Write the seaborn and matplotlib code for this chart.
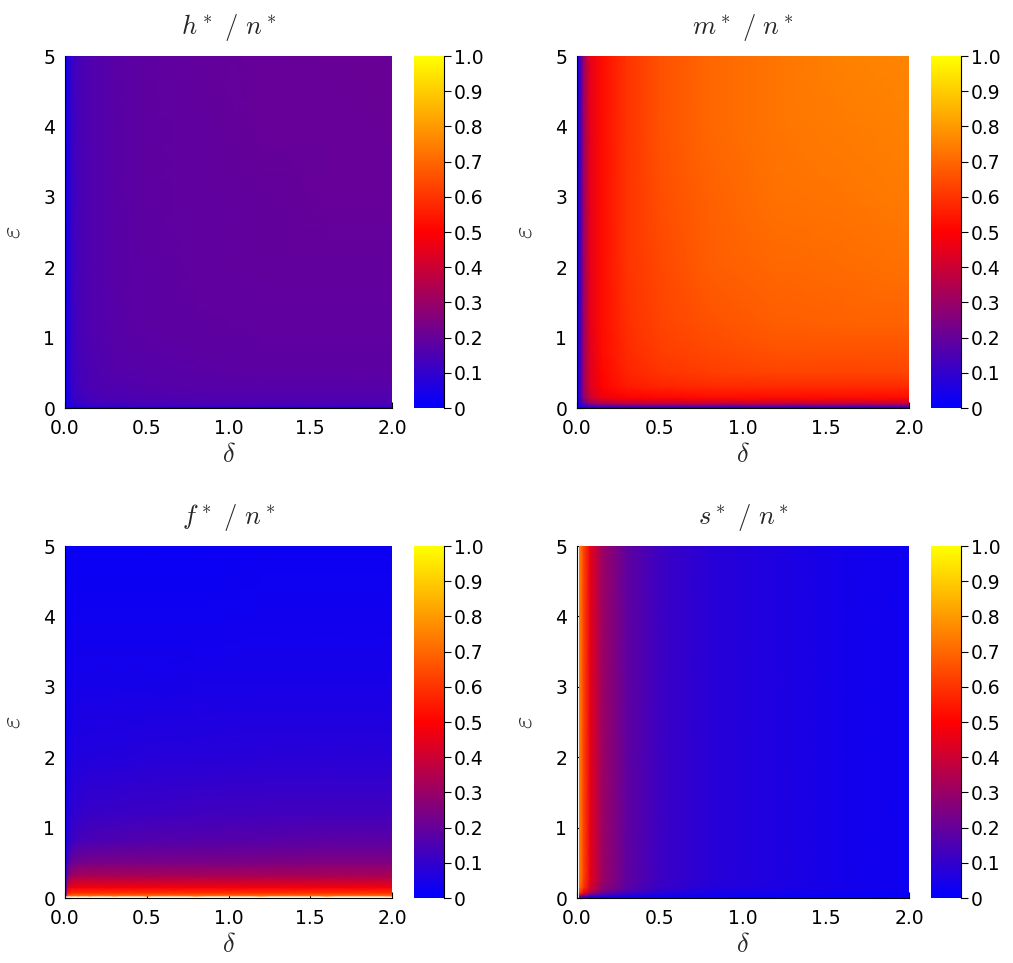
import numpy as np
import matplotlib
matplotlib.use("Agg")
import matplotlib.pyplot as plt
import seaborn as sns

sns.set_style("white")
plt.rcParams["font.family"] = ["DejaVu Sans"]
plt.rcParams["mathtext.fontset"] = "cm"

# grid of delta (columns) and epsilon (rows) where values were read
delta = [0, 0.015, 0.04, 0.08, 0.15, 0.3, 0.5, 0.8, 1.2, 1.6, 2.0]
eps = [0, 0.03, 0.07, 0.15, 0.3, 0.5, 0.8, 1.2, 2, 3, 4, 5]

nan = np.nan

# h*/n*
h_ratio = [
    [0, 0, 0, 0, 0, 0, 0, 0, 0, 0, 0],
    [0, 0.04, 0.07, 0.09, 0.11, 0.12, 0.13, 0.13, 0.13, 0.13, 0.13],
    [0, 0.05, 0.09, 0.11, 0.13, 0.14, 0.145, 0.15, 0.15, 0.15, 0.15],
    [0, 0.05, 0.10, 0.12, 0.14, 0.15, 0.155, 0.16, 0.16, 0.16, 0.16],
    [0, 0.06, 0.10, 0.13, 0.15, 0.16, 0.165, 0.17, 0.17, 0.17, 0.17],
    [0, 0.06, 0.11, 0.13, 0.15, 0.165, 0.17, 0.175, 0.18, 0.18, 0.18],
    [0, 0.06, 0.11, 0.14, 0.155, 0.17, 0.175, 0.18, 0.185, 0.185, 0.185],
    [0, 0.06, 0.11, 0.14, 0.16, 0.17, 0.18, 0.185, 0.19, 0.19, 0.19],
    [0, 0.06, 0.11, 0.14, 0.16, 0.175, 0.18, 0.19, 0.195, 0.195, 0.195],
    [0, 0.06, 0.11, 0.14, 0.16, 0.175, 0.185, 0.19, 0.195, 0.2, 0.2],
    [0, 0.06, 0.11, 0.14, 0.16, 0.175, 0.185, 0.19, 0.2, 0.2, 0.205],
    [0, 0.06, 0.11, 0.14, 0.16, 0.175, 0.185, 0.195, 0.2, 0.205, 0.21],
]

# m*/n*
m_ratio = [
    [0, 0, 0, 0, 0, 0, 0, 0, 0, 0, 0],
    [0, 0.05, 0.1, 0.15, 0.18, 0.2, 0.2, 0.2, 0.2, 0.2, 0.2],
    [0, 0.08, 0.2, 0.3, 0.35, 0.38, 0.4, 0.4, 0.4, 0.4, 0.4],
    [0, 0.1, 0.28, 0.4, 0.47, 0.5, 0.51, 0.52, 0.52, 0.52, 0.52],
    [0, 0.1, 0.3, 0.43, 0.5, 0.55, 0.57, 0.58, 0.58, 0.58, 0.58],
    [0, 0.1, 0.3, 0.44, 0.51, 0.57, 0.6, 0.62, 0.63, 0.63, 0.63],
    [0, 0.1, 0.3, 0.44, 0.52, 0.58, 0.62, 0.64, 0.66, 0.66, 0.66],
    [0, 0.1, 0.3, 0.45, 0.52, 0.59, 0.63, 0.66, 0.68, 0.69, 0.69],
    [0, 0.1, 0.3, 0.45, 0.52, 0.6, 0.64, 0.68, 0.7, 0.71, 0.72],
    [0, 0.1, 0.3, 0.45, 0.52, 0.6, 0.65, 0.69, 0.72, 0.73, 0.74],
    [0, 0.1, 0.3, 0.45, 0.52, 0.6, 0.66, 0.7, 0.73, 0.74, 0.75],
    [0, 0.1, 0.3, 0.45, 0.52, 0.6, 0.66, 0.7, 0.73, 0.75, 0.76],
]

# f*/n*
f_ratio = [
    [nan, nan, nan, nan, nan, nan, nan, nan, nan, nan, nan],
    [0, 0.7, 0.72, 0.72, 0.72, 0.72, 0.72, 0.72, 0.72, 0.72, 0.72],
    [0, 0.55, 0.6, 0.6, 0.6, 0.6, 0.6, 0.6, 0.6, 0.6, 0.6],
    [0, 0.4, 0.47, 0.48, 0.48, 0.48, 0.48, 0.48, 0.48, 0.48, 0.48],
    [0, 0.25, 0.32, 0.34, 0.34, 0.34, 0.34, 0.34, 0.34, 0.34, 0.34],
    [0, 0.15, 0.21, 0.23, 0.235, 0.24, 0.24, 0.24, 0.245, 0.25, 0.25],
    [0, 0.08, 0.12, 0.14, 0.15, 0.16, 0.165, 0.17, 0.175, 0.18, 0.18],
    [0, 0.06, 0.09, 0.1, 0.11, 0.115, 0.12, 0.125, 0.13, 0.13, 0.13],
    [0, 0.04, 0.06, 0.065, 0.07, 0.07, 0.075, 0.075, 0.08, 0.08, 0.08],
    [0, 0.03, 0.04, 0.045, 0.045, 0.045, 0.045, 0.05, 0.05, 0.05, 0.05],
    [0, 0.02, 0.03, 0.03, 0.03, 0.03, 0.03, 0.03, 0.035, 0.035, 0.035],
    [0, 0.015, 0.02, 0.02, 0.02, 0.02, 0.02, 0.02, 0.025, 0.025, 0.025],
]

# s*/n*
s_ratio = [
    [nan, 0, 0, 0, 0, 0, 0, 0, 0, 0, 0],
    [nan, 0.3, 0.2, 0.12, 0.08, 0.05, 0.03, 0.02, 0.015, 0.01, 0.01],
    [nan, 0.6, 0.48, 0.33, 0.21, 0.13, 0.08, 0.05, 0.04, 0.03, 0.02],
    [nan, 0.72, 0.6, 0.43, 0.29, 0.18, 0.11, 0.07, 0.055, 0.04, 0.03],
    [nan, 0.76, 0.63, 0.46, 0.31, 0.19, 0.12, 0.08, 0.06, 0.04, 0.03],
    [nan, 0.76, 0.63, 0.46, 0.31, 0.19, 0.12, 0.08, 0.06, 0.04, 0.03],
    [nan, 0.76, 0.63, 0.46, 0.31, 0.19, 0.12, 0.08, 0.06, 0.04, 0.03],
    [nan, 0.76, 0.63, 0.46, 0.31, 0.19, 0.12, 0.08, 0.06, 0.04, 0.03],
    [nan, 0.76, 0.63, 0.46, 0.31, 0.19, 0.12, 0.08, 0.06, 0.04, 0.03],
    [nan, 0.76, 0.63, 0.46, 0.31, 0.19, 0.12, 0.08, 0.06, 0.04, 0.03],
    [nan, 0.76, 0.63, 0.46, 0.31, 0.19, 0.12, 0.08, 0.06, 0.04, 0.03],
    [nan, 0.76, 0.63, 0.46, 0.31, 0.19, 0.12, 0.08, 0.06, 0.04, 0.03],
]

titles = [r"$h^*\ /\ n^*$", r"$m^*\ /\ n^*$", r"$f^*\ /\ n^*$", r"$s^*\ /\ n^*$"]
panels = [h_ratio, m_ratio, f_ratio, s_ratio]
cbar_ticks = [0, 0.1, 0.2, 0.3, 0.4, 0.5, 0.6, 0.7, 0.8, 0.9, 1.0]
cbar_labels = ["0", "0.1", "0.2", "0.3", "0.4", "0.5", "0.6", "0.7", "0.8", "0.9", "1.0"]

cmap = sns.blend_palette(["blue", "red", "yellow"], as_cmap=True)

W, H = 1013, 963
fig = plt.figure(figsize=(W / 100, H / 100), dpi=100)

def box(x0, y0, w, h):
    return [x0 / W, (H - y0 - h) / H, w / W, h / H]

# pixel boxes: (axes, colorbar)
layout = [
    ((65, 56, 327, 352), (414, 56, 30, 352)),
    ((577, 56, 332, 352), (931, 56, 30, 352)),
    ((65, 546, 327, 352), (414, 546, 30, 352)),
    ((577, 546, 332, 352), (931, 546, 30, 352)),
]

for i, (Z, title) in enumerate(zip(panels, titles)):
    axb, cbb = layout[i]
    ax = fig.add_axes(box(*axb))
    cax = fig.add_axes(box(*cbb))

    Z = np.array(Z, dtype=float)
    x = np.array(delta)
    y = np.array(eps)
    # drop rows / columns that hold no data (shown blank)
    keep_r = ~np.isnan(Z).all(axis=1)
    keep_c = ~np.isnan(Z).all(axis=0)
    Z = Z[keep_r][:, keep_c]
    x = x[keep_c]
    y = y[keep_r]

    mesh = ax.pcolormesh(x, y, Z, cmap=cmap, vmin=0, vmax=1, shading="gouraud")
    ax.set_xlim(0, 2)
    ax.set_ylim(0, 5)
    ax.set_xticks([0, 0.5, 1.0, 1.5, 2.0])
    ax.set_xticklabels(["0.0", "0.5", "1.0", "1.5", "2.0"])
    ax.set_yticks([0, 1, 2, 3, 4, 5])
    ax.tick_params(direction="in", length=4, width=0.8, labelsize=13.5,
                   bottom=True, left=True, colors="black")
    ax.tick_params(axis="x", pad=8)
    ax.tick_params(axis="y", pad=7)
    for side in ["top", "right"]:
        ax.spines[side].set_visible(False)
    for side in ["left", "bottom"]:
        ax.spines[side].set_color("black")
        ax.spines[side].set_linewidth(0.8)
    ax.set_title(title, fontsize=19, pad=16)
    ax.set_xlabel(r"$\delta$", fontsize=19, labelpad=3)
    ax.set_ylabel(r"$\varepsilon$", fontsize=19, labelpad=13)

    cb = fig.colorbar(mesh, cax=cax)
    cb.set_ticks(cbar_ticks)
    cb.set_ticklabels(cbar_labels)
    cb.outline.set_visible(False)
    cax.spines["right"].set_visible(True)
    cax.spines["right"].set_color("black")
    cax.spines["right"].set_linewidth(0.8)
    cax.tick_params(direction="out", length=5, width=0.8, labelsize=13.5, pad=2,
                    right=True, colors="black")

fig.savefig("out.png", dpi=100)
